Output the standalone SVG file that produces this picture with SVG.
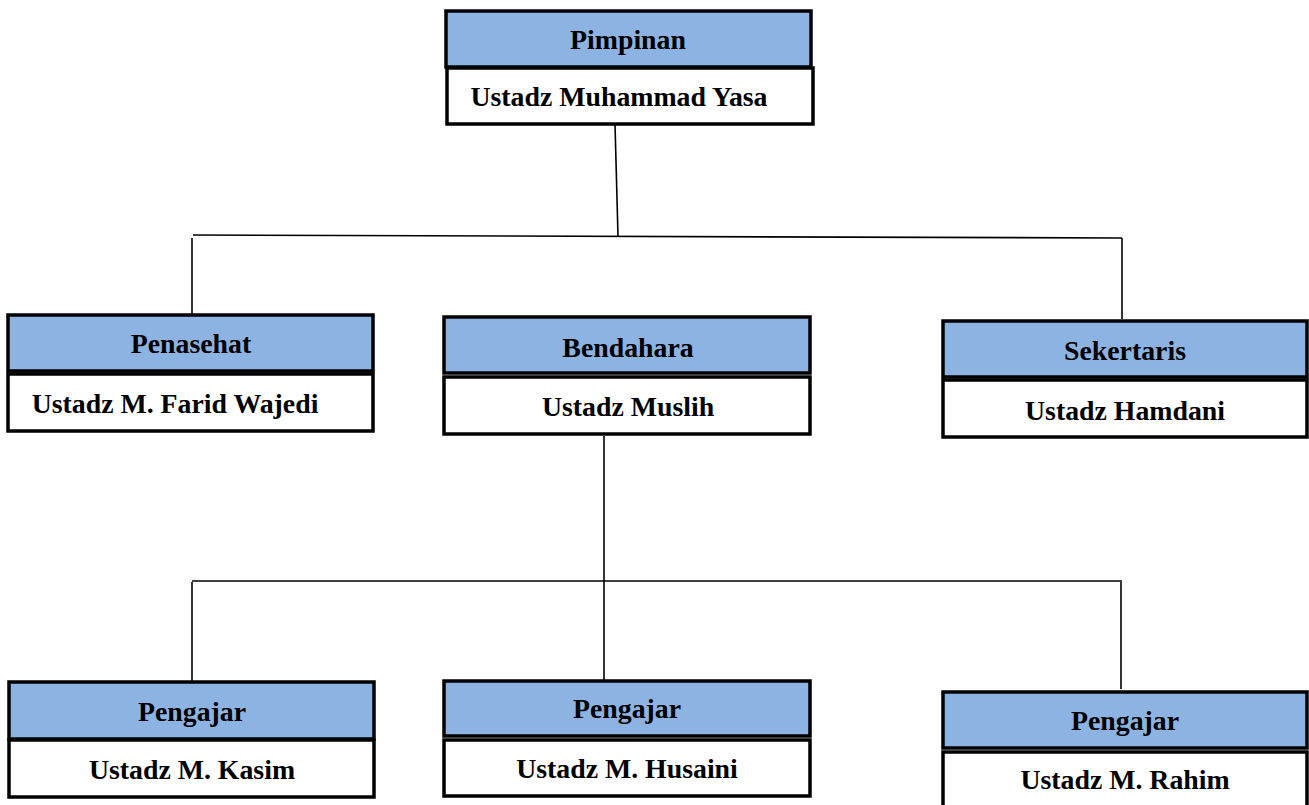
<svg xmlns="http://www.w3.org/2000/svg" width="1309" height="805" viewBox="0 0 1309 805">
<style>
.hd{fill:#8db3e2;stroke:#000;stroke-width:3.5}
.bd{fill:#fff;stroke:#000;stroke-width:3.5}
.t{font-family:"Liberation Serif","Times New Roman",serif;font-weight:bold;font-size:27.8px;fill:#000;text-anchor:middle}
.c{stroke:#000;stroke-width:1.6;fill:none}
</style>
<rect width="1309" height="805" fill="#fff"/>
<g id="connectors">
<line class="c" x1="615" y1="124" x2="618" y2="236"/>
<line class="c" x1="193" y1="235" x2="1122" y2="238"/>
<line class="c" x1="192" y1="238" x2="192" y2="314"/>
<line class="c" x1="1122" y1="238" x2="1122" y2="319"/>
<line class="c" x1="604" y1="436" x2="604" y2="686"/>
<line class="c" x1="192" y1="581" x2="1122" y2="581"/>
<line class="c" x1="192" y1="582" x2="192" y2="681"/>
<line class="c" x1="1121" y1="582" x2="1121" y2="689"/>
</g>
<g id="pimpinan">
<rect class="hd" x="446" y="11" width="365" height="56"/>
<rect class="bd" x="447" y="68" width="366" height="56"/>
<text class="t" x="628" y="49">Pimpinan</text>
<text class="t" x="619" y="106">Ustadz Muhammad Yasa</text>
</g>
<g id="penasehat">
<rect class="hd" x="8" y="315" width="365" height="56"/>
<rect class="bd" x="8" y="374" width="365" height="57"/>
<text class="t" x="191" y="353">Penasehat</text>
<text class="t" x="175" y="413">Ustadz M. Farid Wajedi</text>
</g>
<g id="bendahara">
<rect class="hd" x="444" y="317" width="366" height="56"/>
<rect class="bd" x="444" y="377" width="366" height="57"/>
<text class="t" x="628" y="357">Bendahara</text>
<text class="t" x="628" y="416">Ustadz Muslih</text>
</g>
<g id="sekertaris">
<rect class="hd" x="943" y="321" width="364" height="56"/>
<rect class="bd" x="943" y="380" width="364" height="57"/>
<text class="t" x="1125" y="360">Sekertaris</text>
<text class="t" x="1125" y="420">Ustadz Hamdani</text>
</g>
<g id="pengajar1">
<rect class="hd" x="9" y="682" width="365" height="57"/>
<rect class="bd" x="9" y="740" width="365" height="57"/>
<text class="t" x="192" y="721">Pengajar</text>
<text class="t" x="192" y="779">Ustadz M. Kasim</text>
</g>
<g id="pengajar2">
<rect class="hd" x="444" y="681" width="366" height="55"/>
<rect class="bd" x="444" y="740" width="366" height="56"/>
<text class="t" x="627" y="718">Pengajar</text>
<text class="t" x="627" y="778">Ustadz M. Husaini</text>
</g>
<g id="pengajar3">
<rect class="hd" x="943" y="692" width="364" height="56"/>
<rect class="bd" x="943" y="752" width="364" height="60"/>
<text class="t" x="1125" y="730">Pengajar</text>
<text class="t" x="1125" y="789">Ustadz M. Rahim</text>
</g>
</svg>
